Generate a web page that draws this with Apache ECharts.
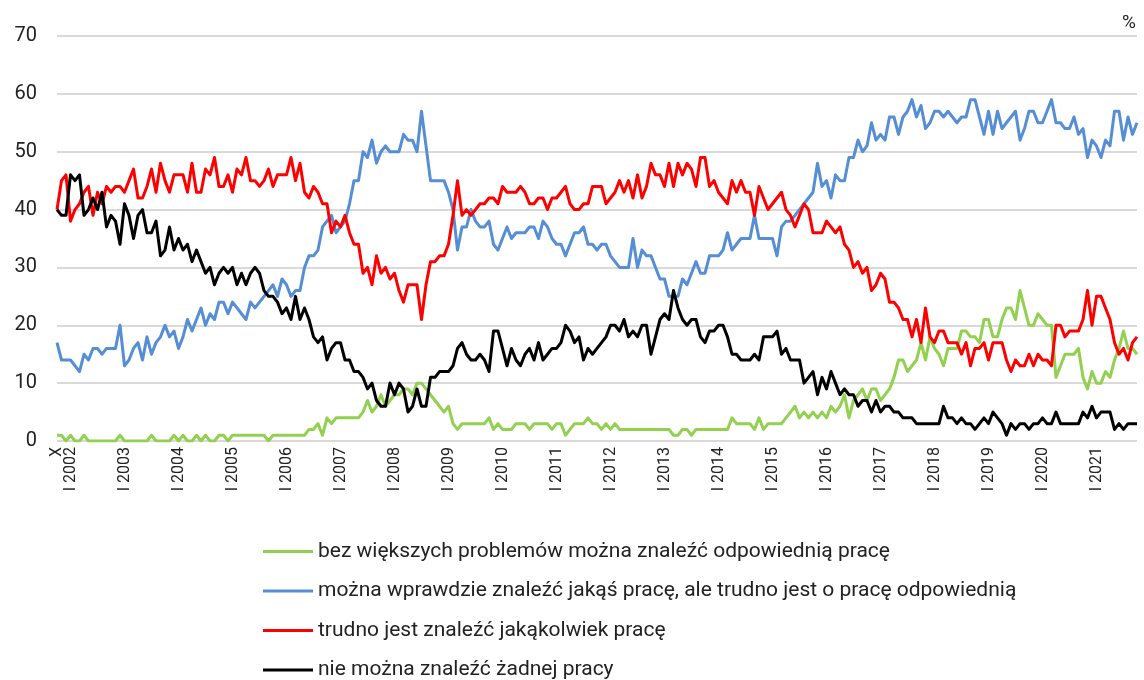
<!DOCTYPE html>
<html>
<head>
<meta charset="utf-8">
<script src="https://cdn.jsdelivr.net/npm/echarts@6/dist/echarts.min.js"></script>
<style>
  html, body { margin: 0; padding: 0; background: #fff; }
  #chart { width: 1144px; height: 680px; }
</style>
</head>
<body>
<div id="chart"></div>
<script>
// miesiące badania: od X 2001 do X 2021
const months = ["I", "II", "III", "IV", "V", "VI", "VII", "VIII", "IX", "X", "XI", "XII"];
const startYear = 2001;
const startMonth = 9; // X

const seriesNames = [
  "bez większych problemów można znaleźć odpowiednią pracę",
  "można wprawdzie znaleźć jakąś pracę, ale trudno jest o pracę odpowiednią",
  "trudno jest znaleźć jakąkolwiek pracę",
  "nie można znaleźć żadnej pracy"
];
const seriesColors = ["#92d050", "#558ed5", "#ff0000", "#000000"];

const bezProblemow = [
  1, 1, 0,
  1, 0, 0, 1, 0, 0, 0, 0, 0, 0, 0, 1,
  0, 0, 0, 0, 0, 0, 1, 0, 0, 0, 0, 1,
  0, 1, 0, 0, 1, 0, 1, 0, 0, 1, 1, 0,
  1, 1, 1, 1, 1, 1, 1, 1, 0, 1, 1, 1,
  1, 1, 1, 1, 1, 2, 2, 3, 1, 4, 3, 4,
  4, 4, 4, 4, 4, 5, 7, 5, 6, 8, 6, 7,
  8, 8, 9, 9, 8, 10, 10, 9, 8, 7, 6, 5,
  6, 3, 2, 3, 3, 3, 3, 3, 3, 4, 2, 3,
  2, 2, 2, 3, 3, 3, 2, 3, 3, 3, 3, 2,
  3, 3, 1, 2, 3, 3, 3, 4, 3, 3, 2, 3,
  2, 3, 2, 2, 2, 2, 2, 2, 2, 2, 2, 2,
  2, 2, 1, 1, 2, 2, 1, 2, 2, 2, 2, 2,
  2, 2, 2, 4, 3, 3, 3, 3, 2, 4, 2, 3,
  3, 3, 3, 4, 5, 6, 4, 5, 4, 5, 4, 5,
  4, 6, 5, 6, 8, 4, 7, 8, 9, 7, 9, 9,
  7, 8, 9, 11, 14, 14, 12, 13, 14, 17, 14, 18,
  16, 15, 13, 16, 16, 16, 19, 19, 18, 18, 17, 21,
  21, 18, 18, 21, 23, 23, 21, 26, 23, 20, 20, 22,
  21, 20, 20, 11, 13, 15, 15, 15, 16, 11, 9, 12,
  10, 10, 12, 11, 14, 16, 19, 16, 16, 15
];

const trudnoOdpowiednia = [
  17, 14, 14,
  14, 13, 12, 15, 14, 16, 16, 15, 16, 16, 16, 20,
  13, 14, 16, 17, 14, 18, 15, 17, 18, 20, 18, 19,
  16, 18, 21, 19, 21, 23, 20, 22, 21, 24, 24, 22,
  24, 23, 22, 21, 24, 23, 24, 25, 26, 27, 25, 28,
  27, 25, 26, 26, 30, 32, 32, 33, 37, 38, 39, 36,
  37, 38, 41, 45, 45, 50, 49, 52, 48, 50, 51, 50,
  50, 50, 53, 52, 52, 50, 57, 51, 45, 45, 45, 45,
  43, 40, 33, 37, 37, 40, 38, 37, 37, 38, 34, 33,
  35, 37, 35, 36, 36, 36, 37, 37, 35, 38, 37, 35,
  34, 34, 32, 34, 36, 36, 37, 34, 34, 33, 34, 34,
  32, 31, 30, 30, 30, 35, 30, 33, 32, 32, 30, 28,
  28, 25, 25, 25, 28, 27, 29, 31, 29, 29, 32, 32,
  32, 33, 36, 33, 34, 35, 35, 35, 39, 35, 35, 35,
  35, 32, 37, 38, 38, 39, 40, 41, 42, 43, 48, 44,
  45, 42, 46, 45, 45, 49, 49, 52, 50, 51, 55, 52,
  53, 52, 56, 56, 53, 56, 57, 59, 56, 58, 54, 55,
  57, 57, 56, 57, 56, 55, 56, 56, 59, 59, 56, 53,
  57, 53, 57, 54, 55, 56, 57, 52, 54, 57, 57, 55,
  55, 57, 59, 55, 55, 54, 54, 56, 53, 54, 49, 52,
  51, 49, 52, 51, 57, 57, 52, 56, 53, 55
];

const trudnoJakakolwiek = [
  40, 45, 46,
  38, 40, 41, 43, 44, 39, 43, 41, 44, 43, 44, 44,
  43, 45, 47, 42, 42, 44, 47, 43, 48, 45, 43, 46,
  46, 46, 43, 48, 43, 43, 47, 46, 49, 44, 44, 46,
  43, 47, 46, 49, 45, 45, 44, 45, 47, 44, 46, 46,
  46, 49, 45, 48, 43, 42, 44, 43, 41, 41, 36, 38,
  37, 39, 36, 34, 34, 29, 30, 27, 32, 29, 30, 28,
  29, 26, 24, 27, 27, 27, 21, 27, 31, 31, 32, 32,
  34, 39, 45, 39, 40, 39, 40, 41, 41, 42, 42, 41,
  44, 43, 43, 43, 44, 43, 41, 41, 42, 42, 40, 42,
  42, 43, 44, 41, 40, 40, 41, 41, 44, 44, 44, 41,
  42, 43, 45, 43, 45, 42, 46, 42, 44, 48, 46, 46,
  44, 48, 44, 48, 46, 48, 47, 44, 49, 49, 44, 45,
  43, 42, 41, 45, 43, 45, 43, 43, 39, 44, 42, 40,
  41, 42, 43, 40, 39, 37, 39, 41, 40, 36, 36, 36,
  38, 37, 36, 37, 34, 33, 30, 31, 29, 30, 26, 27,
  29, 28, 24, 24, 23, 21, 21, 18, 21, 17, 23, 18,
  17, 19, 19, 17, 17, 17, 15, 17, 13, 16, 16, 17,
  14, 17, 17, 17, 14, 12, 14, 13, 13, 15, 13, 15,
  14, 14, 13, 20, 20, 18, 19, 19, 19, 21, 26, 20,
  25, 25, 23, 21, 17, 15, 16, 14, 17, 18
];

const nieMozna = [
  40, 39, 39,
  46, 45, 46, 39, 40, 42, 40, 43, 37, 39, 38, 34,
  41, 39, 35, 39, 40, 36, 36, 38, 32, 33, 37, 33,
  35, 33, 34, 31, 33, 31, 29, 30, 27, 29, 30, 29,
  30, 27, 29, 27, 29, 30, 29, 26, 25, 25, 24, 22,
  23, 21, 25, 21, 23, 21, 18, 17, 18, 14, 16, 17,
  17, 14, 14, 12, 12, 11, 9, 10, 7, 6, 6, 10,
  8, 10, 9, 5, 6, 9, 6, 6, 11, 11, 12, 12,
  12, 13, 16, 17, 15, 14, 14, 15, 14, 12, 19, 19,
  16, 13, 16, 14, 13, 15, 16, 14, 17, 14, 15, 16,
  16, 17, 20, 19, 17, 18, 14, 16, 15, 16, 17, 18,
  20, 20, 19, 21, 18, 19, 18, 20, 20, 15, 18, 21,
  22, 21, 26, 23, 21, 20, 21, 21, 18, 17, 19, 19,
  20, 20, 18, 15, 15, 14, 14, 14, 15, 14, 18, 18,
  18, 19, 15, 16, 14, 14, 14, 10, 11, 12, 8, 11,
  9, 12, 10, 8, 9, 8, 8, 6, 7, 7, 5, 7,
  5, 6, 6, 5, 5, 4, 4, 4, 3, 3, 3, 3,
  3, 3, 6, 4, 4, 3, 4, 3, 3, 2, 3, 4,
  3, 5, 4, 3, 1, 3, 2, 3, 3, 2, 3, 3,
  4, 3, 3, 5, 3, 3, 3, 3, 3, 5, 4, 6,
  4, 5, 5, 5, 2, 3, 2, 3, 3, 3
];

const yTicks = [0, 10, 20, 30, 40, 50, 60, 70];

const categories = bezProblemow.map((_, k) => {
  const m = (startMonth + k) % 12;
  const y = startYear + Math.floor((startMonth + k) / 12);
  return months[m] + " " + y;
});

const chart = echarts.init(document.getElementById("chart"));

const font = "Roboto, 'Noto Sans', sans-serif";
const textColor = "#222222";

const baseLabel = {
  rotate: 90,
  margin: 6,
  fontFamily: font,
  fontSize: 16,
  color: textColor,
  hideOverlap: false
};

chart.setOption({
  backgroundColor: "#ffffff",
  animation: false,
  textStyle: { fontFamily: font },
  title: {
    text: "%",
    right: 3,
    top: 9,
    textStyle: { fontFamily: font, fontSize: 19, fontWeight: "normal", color: textColor }
  },
  legend: {
    orient: "vertical",
    left: 258,
    top: 536,
    height: 150,
    icon: "rect",
    itemWidth: 50,
    itemHeight: 3,
    itemGap: 18.5,
    textStyle: { fontFamily: font, fontSize: 21, color: textColor, lineHeight: 21 },
    data: seriesNames
  },
  grid: {
    left: 57,
    right: 7,
    top: 36,
    bottom: 239,
    containLabel: false
  },
  xAxis: [
    {
      // etykiety styczniowe: I 2002 ... I 2021
      type: "category",
      boundaryGap: false,
      data: categories,
      position: "bottom",
      axisLine: { show: false },
      axisTick: { show: false },
      splitLine: { show: false },
      axisLabel: Object.assign({}, baseLabel, {
        showMinLabel: true,
        showMaxLabel: true,
        interval: (idx, val) => val.startsWith("I ")
      })
    },
    {
      // pierwszy pomiar: X (2001)
      type: "category",
      boundaryGap: false,
      data: categories,
      position: "bottom",
      offset: 0,
      axisLine: { show: false },
      axisTick: { show: false },
      splitLine: { show: false },
      axisLabel: Object.assign({}, baseLabel, {
        showMinLabel: true,
        showMaxLabel: false,
        interval: (idx) => idx === 0,
        formatter: (val) => val.split(" ")[0]
      })
    }
  ],
  yAxis: {
    type: "value",
    min: yTicks[0],
    max: yTicks[yTicks.length - 1],
    interval: 10,
    axisLine: { show: false },
    axisTick: { show: false },
    axisLabel: { margin: 20, fontFamily: font, fontSize: 20, color: textColor },
    splitLine: { show: true, lineStyle: { color: "#d9d9d9", width: 2 } }
  },
  series: [bezProblemow, trudnoOdpowiednia, trudnoJakakolwiek, nieMozna].map((data, i) => ({
    name: seriesNames[i],
    type: "line",
    data: data,
    symbol: "none",
    color: seriesColors[i],
    lineStyle: { color: seriesColors[i], width: 3, join: "round" }
  }))
});

window.addEventListener("resize", () => chart.resize());
</script>
</body>
</html>
